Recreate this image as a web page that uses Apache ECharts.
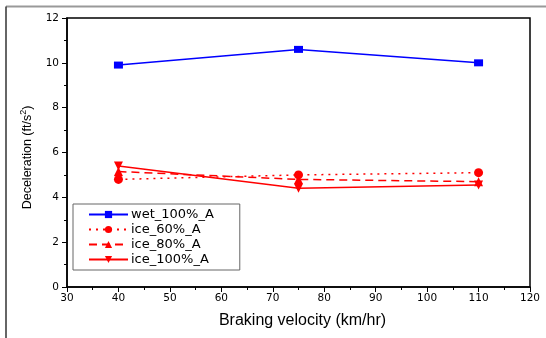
<!DOCTYPE html>
<html>
<head>
<meta charset="utf-8">
<script src="https://cdn.jsdelivr.net/npm/echarts@6/dist/echarts.min.js"></script>
<style>
  html, body { margin: 0; padding: 0; background: #fff; }
  #chart { width: 546px; height: 338px; }
</style>
</head>
<body>
<div id="chart"></div>
<script>
// velocities (km/hr)
const velocity = [40, 75, 110];
// deceleration (ft/s^2)
const wet100 = [9.9, 10.6, 10.0];
const ice60 = [4.8, 5.0, 5.1];
const ice80 = [5.15, 4.8, 4.7];
const ice100 = [5.4, 4.4, 4.55];

const BLUE = '#0000ff';
const RED = '#ff0000';
const font = 'Liberation Sans, Arial, sans-serif';
const wide = 'DejaVu Sans, sans-serif';

function pairs(vals) {
  return velocity.map((v, i) => [v, vals[i]]);
}

function mkSeries(name, vals, color, symbol, dash, rotate) {
  return {
    name: name,
    type: 'line',
    data: pairs(vals),
    symbol: symbol,
    symbolSize: symbol === 'rect' ? [9, 7] : 9,
    symbolRotate: rotate || 0,
    showAllSymbol: true,
    lineStyle: { color: color, width: 1.5, type: dash },
    itemStyle: { color: color },
    emphasis: { disabled: true },
    z: 3
  };
}

const chart = echarts.init(document.getElementById('chart'));
chart.setOption({
  animation: false,
  backgroundColor: '#fff',
  graphic: [
    { type: 'line', shape: { x1: 6, y1: 6.5, x2: 546, y2: 6.5 }, style: { stroke: '#999', lineWidth: 2 } },
    { type: 'line', shape: { x1: 6, y1: 6.5, x2: 6, y2: 338 }, style: { stroke: '#333', lineWidth: 1.5 } }
  ],
  grid: { left: 67, right: 16, top: 18, bottom: 51, show: true, borderColor: '#000', borderWidth: 1.5 },
  legend: {
    left: 73, top: 204,
    orient: 'vertical',
    itemWidth: 39, itemHeight: 9, itemGap: 2,
    padding: [4, 26, 4, 15],
    borderColor: '#666', borderWidth: 1,
    backgroundColor: '#fff',
    textStyle: { fontFamily: wide, fontSize: 13, color: '#000', padding: [0, 0, 0, -2] },
    data: ['wet_100%_A', 'ice_60%_A', 'ice_80%_A', 'ice_100%_A']
  },
  xAxis: {
    type: 'value', min: 30, max: 120, interval: 10,
    name: 'Braking velocity (km/hr)', nameLocation: 'middle', nameGap: 26,
    nameTextStyle: { fontFamily: font, fontSize: 16, color: '#000', padding: [0, 0, 0, 8] },
    axisLine: { lineStyle: { color: '#000', width: 1.5 } },
    axisTick: { show: true, length: 5, lineStyle: { color: '#000' } },
    minorTick: { show: true, splitNumber: 2, length: 3, lineStyle: { color: '#000' } },
    axisLabel: { fontFamily: wide, fontSize: 10.5, color: '#000', margin: 6 },
    splitLine: { show: false }
  },
  yAxis: {
    type: 'value', min: 0, max: 12, interval: 2,
    name: 'Deceleration (ft/s{sup|2})', nameLocation: 'middle', nameGap: 31, nameRotate: 90,
    nameTextStyle: {
      fontFamily: font, fontSize: 12.5, color: '#000', padding: [0, 10, 0, 0],
      rich: { sup: { fontFamily: font, fontSize: 9, color: '#000', verticalAlign: 'top', padding: [0, 0, 8, 0] } }
    },
    axisLine: { show: true, lineStyle: { color: '#000', width: 1.5 } },
    axisTick: { show: true, length: 5, lineStyle: { color: '#000' } },
    minorTick: { show: true, splitNumber: 2, length: 3, lineStyle: { color: '#000' } },
    axisLabel: { fontFamily: wide, fontSize: 10.5, color: '#000', margin: 8 },
    splitLine: { show: false }
  },
  series: [
    mkSeries('wet_100%_A', wet100, BLUE, 'rect', 'solid'),
    mkSeries('ice_60%_A', ice60, RED, 'circle', [2, 5]),
    mkSeries('ice_80%_A', ice80, RED, 'triangle', [8, 5]),
    mkSeries('ice_100%_A', ice100, RED, 'triangle', 'solid', 180)
  ]
});
</script>
</body>
</html>
